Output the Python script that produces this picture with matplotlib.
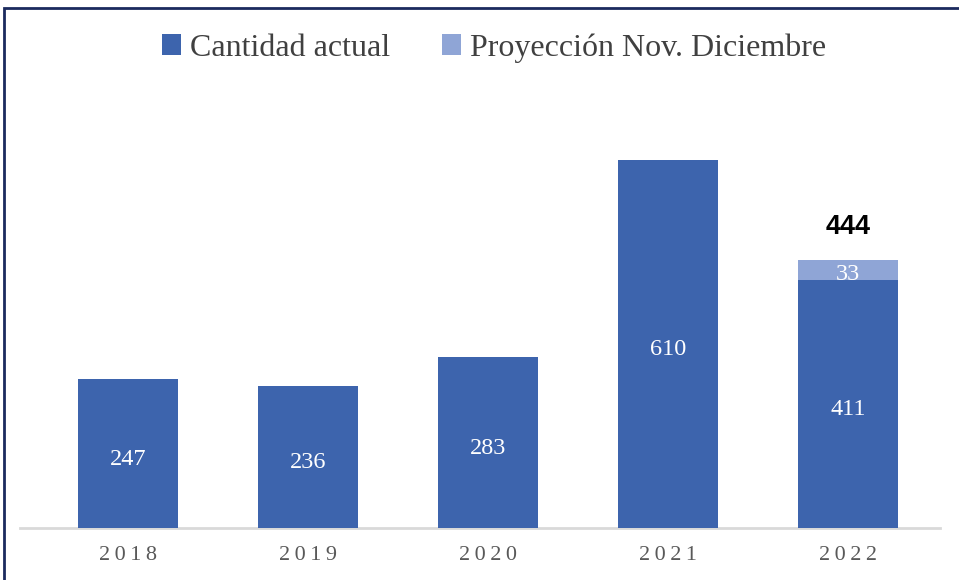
import matplotlib.pyplot as plt
from matplotlib.patches import Patch, Rectangle

# data
years = ["2018", "2019", "2020", "2021", "2022"]
actual = [247, 236, 283, 610, 411]
projection = [0, 0, 0, 0, 33]
total_label = "444"

DARK = "#3D64AD"
LIGHT = "#8FA5D6"
FRAME = "#1B2A5E"

plt.rcParams["font.family"] = ["Liberation Serif", "DejaVu Serif"]

fig = plt.figure(figsize=(9.59, 5.8), dpi=100)
W, H = 959, 580
# axes placed in pixel terms: x 20..940, baseline at y=528
ax = fig.add_axes([20 / W, (H - 528) / H, 920 / W, 420 / H])

x = list(range(len(years)))
ax.bar(x, actual, width=0.555, color=DARK, zorder=2)
ax.bar(x, projection, width=0.555, bottom=actual, color=LIGHT, zorder=2)

for xi, a, p in zip(x, actual, projection):
    ax.annotate(str(a), (xi, a / 2), xytext=(0, -4), textcoords="offset points",
                ha="center", va="center", color="white", fontsize=17.5)
    if p:
        ax.annotate(str(p), (xi, a + p / 2), xytext=(0, -3), textcoords="offset points",
                    ha="center", va="center", color="white", fontsize=17.5)
        ax.annotate(total_label, (xi, a + p), xytext=(0, 24), textcoords="offset points",
                    ha="center", va="center", color="black", fontsize=19.5,
                    fontweight="bold", family=["Liberation Sans", "DejaVu Sans"])

ax.set_xlim(-0.6, 4.51)
ax.set_ylim(0, 420 / 0.603)
ax.set_xticks(x)
ax.set_xticklabels(["\u2009".join(y) for y in years], fontsize=16, color="#595959")
ax.tick_params(axis="x", length=0, pad=13)
ax.set_yticks([])
for s in ["top", "right", "left"]:
    ax.spines[s].set_visible(False)
ax.spines["bottom"].set_color("#D9D9D9")
ax.spines["bottom"].set_linewidth(2)
ax.spines["bottom"].set_zorder(1)

handles = [Patch(facecolor=DARK, label="Cantidad actual"),
           Patch(facecolor=LIGHT, label="Proyección Nov. Diciembre")]
fig.legend(handles=handles, loc="center", bbox_to_anchor=(494 / W, 1 - 48 / H), ncol=2,
           frameon=False, fontsize=23, labelcolor="#404040", handlelength=0.6,
           handleheight=0.6, handletextpad=0.3, columnspacing=1.6)

# outer frame, cropped on the right and bottom
fig.patches.append(Rectangle((4 / W, -0.1), 1.2, 1.1 - 8 / H, transform=fig.transFigure,
                             fill=False, edgecolor=FRAME, linewidth=2))

fig.savefig("out.png", dpi=100)
